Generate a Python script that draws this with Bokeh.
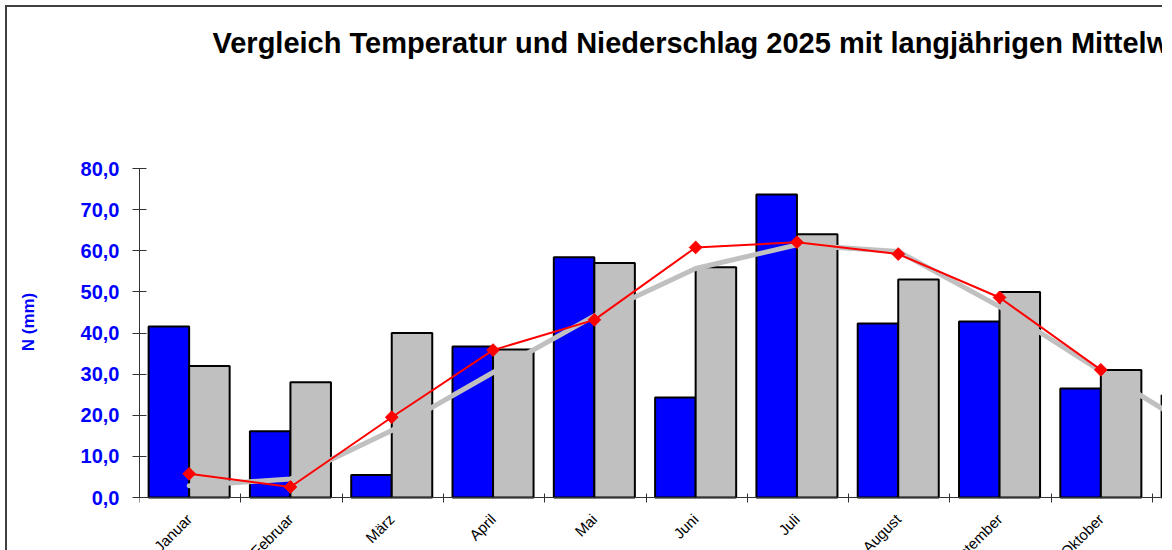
import numpy as np
from bokeh.plotting import figure
from bokeh.models import Range1d, FixedTicker, LinearAxis, Title
from bokeh.embed import file_html
from bokeh.resources import INLINE

# ---- data ----
months = ["Januar", "Februar", "März", "April", "Mai", "Juni", "Juli",
          "August", "September", "Oktober", "November"]
precip_2025 = [41.6, 16.1, 5.5, 36.7, 58.4, 24.3, 73.7, 42.3, 42.8, 26.5, 24.8]
precip_mean = [32.0, 28.0, 40.0, 36.0, 57.0, 56.0, 64.0, 53.0, 50.0, 31.0]
temp_2025 = [1.8, 0.8, 6.1, 11.2, 13.5, 19.0, 19.4, 18.5, 15.2, 9.7]
temp_mean = [0.9, 1.4, 5.1, 9.5, 13.8, 17.4, 19.2, 18.7, 14.5, 9.6, 4.9]
y_ticks = [0, 10, 20, 30, 40, 50, 60, 70, 80]
title_text = "Vergleich Temperatur und Niederschlag 2025 mit langjährigen Mittelwerten"

FONT = "Liberation Sans"

# layout (pixels)
W, H = 1162, 550
FRAME_LEFT, FRAME_TOP = 139, 93
AXIS_TOP, AXIS_Y = 168, 497        # pixel rows of 80 mm and 0 mm
CAT_W = 101.3                      # pixel width of one month
Y_MAX = 80.0
T_MIN, T_MAX = 0.0, 25.0           # secondary (temperature) scale: 0..80 mm <-> 0..25 °C
px_per_unit = (AXIS_Y - AXIS_TOP) / Y_MAX
y_lo = -(H - AXIS_Y) / px_per_unit
y_hi = Y_MAX + (AXIS_TOP - FRAME_TOP) / px_per_unit
k = (T_MAX - T_MIN) / Y_MAX
x_hi = (W - FRAME_LEFT) / CAT_W

p = figure(width=W, height=H, output_backend="svg", toolbar_location=None,
           x_range=Range1d(0, x_hi), y_range=Range1d(y_lo, y_hi),
           min_border_left=FRAME_LEFT, min_border_right=0, min_border_top=FRAME_TOP,
           min_border_bottom=0)
p.border_fill_alpha = 0
p.styles = {"background": "linear-gradient(#404040, #404040) 5px 5px / 2px 100% no-repeat, "
                          "linear-gradient(#404040, #404040) 5px 5px / 100% 2px no-repeat, #ffffff"}
p.extra_y_ranges = {"temp": Range1d(T_MIN + y_lo * k, T_MIN + y_hi * k)}
p.outline_line_color = None
p.xgrid.visible = False
p.ygrid.visible = False
p.background_fill_color = "white"

# spacer between frame and title (closer to the frame than p.title)
p.add_layout(Title(text=" ", text_font_size="1px", standoff=32), "above")

# title
p.title.text = title_text
p.title.align = "left"
p.title.offset = 73
p.title.standoff = 0
p.title.text_font = FONT
p.title.text_font_style = "bold"
p.title.text_font_size = "29px"
p.title.text_color = "black"

idx = np.arange(len(months))
# bars
p.vbar(x=idx + 0.29, top=precip_2025, width=0.4, bottom=0,
       fill_color="#0000FF", line_color="black", line_width=2)
p.vbar(x=idx[:len(precip_mean)] + 0.69, top=precip_mean, width=0.4, bottom=0,
       fill_color="#C0C0C0", line_color="black", line_width=2)

# temperature lines
p.line(x=idx[:len(temp_mean)] + 0.49, y=temp_mean, y_range_name="temp",
       line_color="#C0C0C0", line_width=5, line_cap="round")
p.line(x=idx[:len(temp_2025)] + 0.49, y=temp_2025, y_range_name="temp",
       line_color="#FF0000", line_width=2)
p.scatter(x=idx[:len(temp_2025)] + 0.49, y=temp_2025, y_range_name="temp",
          marker="square", size=9, angle=np.pi / 4,
          fill_color="#FF0000", line_color="#FF0000")

# y axis
ya = p.yaxis[0]
ya.bounds = (0, Y_MAX)
ya.ticker = FixedTicker(ticks=y_ticks)
ya.major_label_overrides = {t: f"{t:.1f}".replace(".", ",") for t in y_ticks}
ya.major_label_text_color = "#0000FF"
ya.major_label_text_font = FONT
ya.major_label_text_font_style = "bold"
ya.major_label_text_font_size = "20px"
ya.major_tick_in = 7
ya.major_tick_out = 7
ya.minor_tick_line_color = None
ya.major_label_standoff = 13
ya.axis_line_color = "#333333"
ya.major_tick_line_color = "#333333"
ya.axis_label = "N (mm)"
ya.axis_label_text_font = FONT
ya.axis_label_text_font_style = "bold"
ya.axis_label_text_font_size = "17px"
ya.axis_label_text_color = "#0000FF"
ya.axis_label_standoff = 40

# x axis: ticks at month boundaries (no labels), drawn at y = 0
xa = p.xaxis[0]
xa.fixed_location = 0
xa.ticker = FixedTicker(ticks=list(range(len(months) + 1)))
xa.major_label_text_font_size = "0px"
xa.major_tick_in = 4
xa.major_tick_out = 5
xa.minor_tick_line_color = None
xa.axis_line_color = "#333333"
xa.major_tick_line_color = "#333333"

# month names as a second axis at y = 0, labels rotated
label_pos = [i + 0.49 for i in range(len(months))]
xl = LinearAxis(fixed_location=0, ticker=FixedTicker(ticks=label_pos),
                major_label_overrides={pos: m for pos, m in zip(label_pos, months)},
                major_label_orientation=np.pi / 4,
                major_label_text_font=FONT, major_label_text_font_size="15px",
                major_label_text_color="black",
                major_tick_line_color=None, minor_tick_line_color=None,
                axis_line_color=None, major_tick_out=0, major_tick_in=0,
                major_label_standoff=19)
p.add_layout(xl, "below")

open("out.html", "w").write(file_html(p, INLINE))
